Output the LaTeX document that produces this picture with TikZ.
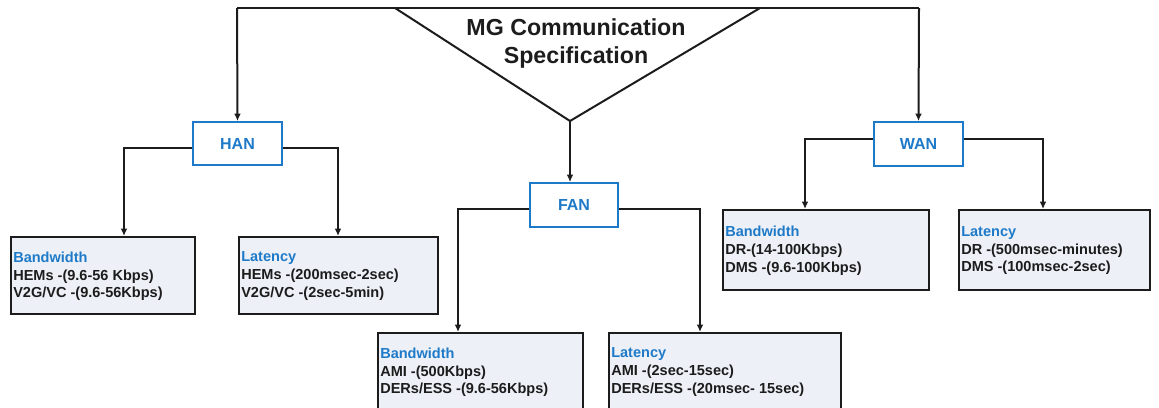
\documentclass[tikz,border=0pt]{standalone}
\usepackage{fontspec}
\setmainfont{Liberation Sans}
\usetikzlibrary{arrows.meta,calc}
\definecolor{netblue}{RGB}{30,122,200}
\definecolor{boxfill}{RGB}{237,241,247}
\definecolor{ink}{RGB}{28,28,28}
\tikzset{
  wire/.style={draw=ink, line width=1.5pt},
  arrowwire/.style={wire, -{Latex[length=5.5pt,width=5pt]}},
  netbox/.style={draw=netblue, line width=1.4pt, fill=white, inner sep=0pt,
    font=\bfseries\fontsize{12pt}{14pt}\selectfont, text=netblue},
  databox/.style={draw=ink, line width=1.8pt, fill=boxfill, inner sep=0pt, anchor=north west},
  datatext/.style={anchor=north west, align=left, inner sep=0pt, text=ink,
    font=\bfseries\fontsize{10.9pt}{13.3pt}\selectfont},
  head/.style={text=netblue}
}
\begin{document}
\begin{tikzpicture}[x=0.75pt,y=-0.75pt]
  \path[use as bounding box, clip] (0,0) rectangle (1159,407);

  % root: inverted triangle with the title
  \coordinate (topL) at (237,8);
  \coordinate (topR) at (919,8);
  \coordinate (triL) at (395,8);
  \coordinate (triR) at (760,8);
  \coordinate (apex) at (570,121);
  \draw[wire, line join=miter] (triL) -- (apex) -- (triR);
  \draw[wire] (topL) -- (topR);
  \node[font=\bfseries\fontsize{17.4pt}{21pt}\selectfont, text=ink, align=center]
    (title) at (576,44) {MG Communication\\Specification};

  % network level boxes
  \node[netbox, minimum width=89*0.75pt, minimum height=43*0.75pt] (han) at (237.5,143.5) {HAN};
  \node[netbox, minimum width=88*0.75pt, minimum height=44*0.75pt] (fan) at (574,205) {FAN};
  \node[netbox, minimum width=89*0.75pt, minimum height=44*0.75pt] (wan) at (918.5,144) {WAN};

  \draw[arrowwire] (topL) -- (han.north);
  \draw[arrowwire] (topR) -- (wan.north);
  \draw[arrowwire] (apex) -- (apex |- fan.north);

  % specification boxes
  \node[databox, minimum width=184*0.75pt, minimum height=77*0.75pt] (hbw) at (10,236) {};
  \node[databox, minimum width=199*0.75pt, minimum height=77*0.75pt] (hlt) at (238,236) {};
  \node[databox, minimum width=205*0.75pt, minimum height=90*0.75pt] (fbw) at (377,332) {};
  \node[databox, minimum width=232*0.75pt, minimum height=90*0.75pt] (flt) at (608,332) {};
  \node[databox, minimum width=206*0.75pt, minimum height=80*0.75pt] (wbw) at (722,209) {};
  \node[databox, minimum width=191*0.75pt, minimum height=80*0.75pt] (wlt) at (958,209) {};

  \node[datatext] (hbwT) at ($(hbw.north west)+(3,15.5)$)
    {{\color{netblue}Bandwidth}\\HEMs -(9.6-56 Kbps)\\V2G/VC -(9.6-56Kbps)};
  \node[datatext] (hltT) at ($(hlt.north west)+(3,15.5)$)
    {{\color{netblue}Latency}\\HEMs -(200msec-2sec)\\V2G/VC -(2sec-5min)};
  \node[datatext] (fbwT) at ($(fbw.north west)+(3,15.5)$)
    {{\color{netblue}Bandwidth}\\AMI -(500Kbps)\\DERs/ESS -(9.6-56Kbps)};
  \node[datatext] (fltT) at ($(flt.north west)+(3,15.5)$)
    {{\color{netblue}Latency}\\AMI -(2sec-15sec)\\DERs/ESS -(20msec- 15sec)};
  \node[datatext] (wbwT) at ($(wbw.north west)+(3,17)$)
    {{\color{netblue}Bandwidth}\\DR-(14-100Kbps)\\DMS -(9.6-100Kbps)};
  \node[datatext] (wltT) at ($(wlt.north west)+(3,17)$)
    {{\color{netblue}Latency}\\DR -(500msec-minutes)\\DMS -(100msec-2sec)};

  % branches from each network box
  \draw[arrowwire] ([yshift=-4.5*0.75pt]han.west) -| ($(hbw.north west)+(114,0)$);
  \draw[arrowwire] ([yshift=-4.5*0.75pt]han.east) -| ($(hlt.north west)+(100,0)$);
  \draw[arrowwire] ([yshift=-4*0.75pt]fan.west) -| ($(fbw.north west)+(81,0)$);
  \draw[arrowwire] ([yshift=-4*0.75pt]fan.east) -| ($(flt.north west)+(92,0)$);
  \draw[arrowwire] ([yshift=5*0.75pt]wan.west) -| ($(wbw.north west)+(83,0)$);
  \draw[arrowwire] ([yshift=5*0.75pt]wan.east) -| ($(wlt.north west)+(85,0)$);
\end{tikzpicture}
\end{document}
